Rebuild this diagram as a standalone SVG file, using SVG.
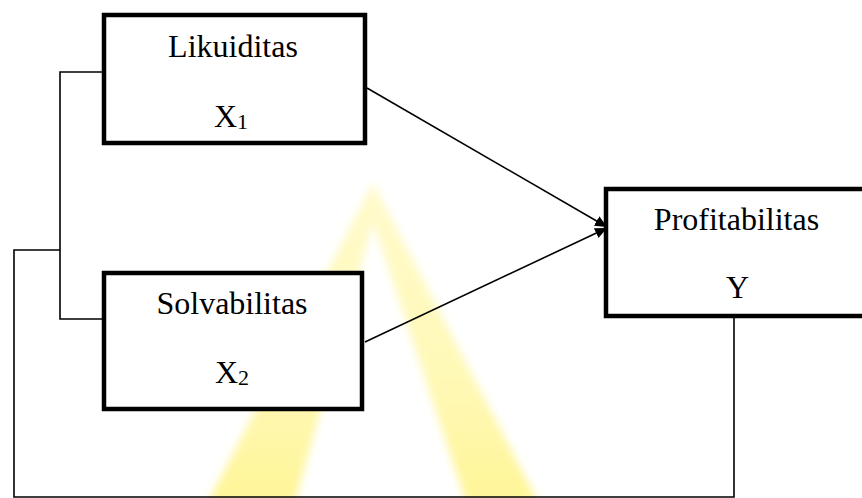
<svg xmlns="http://www.w3.org/2000/svg" width="862" height="498" viewBox="0 0 862 498">
  <style>
    .box { fill: #ffffff; stroke: #000000; stroke-width: 4.5; }
    .lbl { font-family: "Liberation Serif", "Times New Roman", serif; font-size: 32px; fill: #000000; text-anchor: middle; }
    .sub { font-size: 22px; }
    .con { fill: none; stroke: #000000; stroke-width: 1.6; }
  </style>
  <defs>
    <marker id="arrow" markerUnits="userSpaceOnUse" markerWidth="15" markerHeight="12" refX="12" refY="5.5" orient="auto">
      <path d="M0,0 L12,5.5 L0,11 z" fill="#000000"/>
    </marker>
    <filter id="soft" x="-10%" y="-10%" width="120%" height="120%">
      <feGaussianBlur stdDeviation="4"/>
    </filter>
    <linearGradient id="wm" x1="0" y1="183" x2="0" y2="498" gradientUnits="userSpaceOnUse">
      <stop offset="0" stop-color="#FFF7A8"/>
      <stop offset="0.6" stop-color="#FFF488"/>
      <stop offset="1" stop-color="#FFEF55"/>
    </linearGradient>
  </defs>
  <rect width="862" height="498" fill="#ffffff"/>
  <g id="watermark" filter="url(#soft)">
    <path d="M373,183 L208,502 L538,502 Z M373,222 L295,502 L466,502 Z" fill="url(#wm)" fill-rule="evenodd" opacity="0.6"/>
  </g>
  <g id="connectors">
    <polyline class="con" points="102,72 60,72 60,319 105,319"/>
    <polyline class="con" points="60,250 14,250 14,497 734,497 734,317"/>
    <line class="con" x1="367" y1="88" x2="607" y2="227" marker-end="url(#arrow)"/>
    <line class="con" x1="365" y1="342" x2="607" y2="228" marker-end="url(#arrow)"/>
  </g>
  <g id="likuiditas">
    <rect class="box" x="104" y="15" width="261" height="128"/>
    <text class="lbl" x="233" y="57">Likuiditas</text>
    <text class="lbl" x="231" y="127">X<tspan class="sub" dy="1.5">1</tspan></text>
  </g>
  <g id="solvabilitas">
    <rect class="box" x="104" y="273" width="258" height="136"/>
    <text class="lbl" x="232" y="314">Solvabilitas</text>
    <text class="lbl" x="232" y="383">X<tspan class="sub" dy="1.5">2</tspan></text>
  </g>
  <g id="profitabilitas">
    <rect class="box" x="606" y="189" width="300" height="127"/>
    <text class="lbl" x="736.5" y="230">Profitabilitas</text>
    <text class="lbl" x="737.5" y="298">Y</text>
  </g>
</svg>
